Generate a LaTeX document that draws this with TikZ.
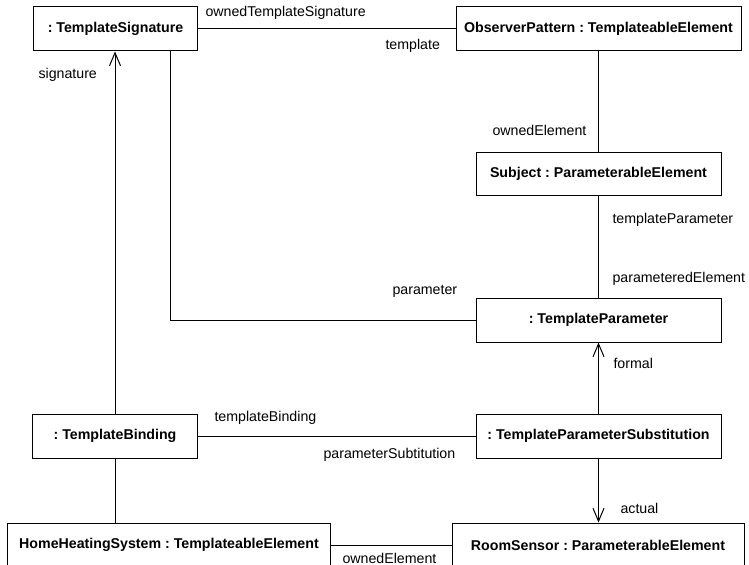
\documentclass[tikz,border=0pt]{standalone}
\usepackage{fontspec}
\setsansfont{Liberation Sans}
\frenchspacing
\usetikzlibrary{arrows.meta,positioning}
\tikzset{
  objnode/.style = {draw, rectangle, inner sep=0pt, minimum height=44bp, align=center,
  font=\sffamily\bfseries\fontsize{14.25}{17}\selectfont},
  rolelbl/.style = {inner sep=0pt, anchor=west, font=\sffamily\fontsize{14.25}{17}\selectfont}
}

\begin{document}
\begin{tikzpicture}[x=1bp, y=-1bp, line width=1bp, >={Straight Barb[length=13bp,width=11bp]}]
  \useasboundingbox (0,0) rectangle (749,565);
  % objects
  \node [objnode, minimum width=163bp] (sig) at (115.5,29) {: TemplateSignature};
  \node [objnode, minimum width=285bp] (observer) at (598.5,29) {ObserverPattern : TemplateableElement};
  \node [objnode, minimum width=245bp, minimum height=42bp] (subject) at (598.5,174) {Subject : ParameterableElement};
  \node [objnode, minimum width=245bp] (tparam) at (598.5,320) {: TemplateParameter};
  \node [objnode, minimum width=245bp] (tps) at (598.5,436) {: TemplateParameterSubstitution};
  \node [objnode, minimum width=164bp] (binding) at (115,436) {: TemplateBinding};
  \node [objnode, minimum width=322bp] (home) at (169,545) {HomeHeatingSystem : TemplateableElement};
  \node [objnode, minimum width=292bp] (room) at (598,545) {RoomSensor : ParameterableElement};

  % links
  \draw (sig) -- (observer);
  \draw (observer) -- (subject);
  \draw (subject) -- (tparam);
  \draw ([xshift=54.5bp]sig.south) |- (tparam.west);
  \draw [->] (binding.north) -- (binding.north |- sig.south);
  \draw (binding) -- (tps);
  \draw [->] (tps) -- (tparam);
  \draw [->] (tps.south) -- (tps.south |- room.north);
  \draw (binding.south) -- (binding.south |- home.north);
  \draw (home) -- (room);

  % role names
  \node [rolelbl] (l-ots) at (205,13) {ownedTemplateSignature};
  \node [rolelbl] (l-tmpl) at (385,46) {template};
  \node [rolelbl] (l-own1) at (492,130) {ownedElement};
  \node [rolelbl] (l-tpar) at (612,220) {templateParameter};
  \node [rolelbl] (l-pel) at (612,279) {parameteredElement};
  \node [rolelbl] (l-par) at (392,291) {parameter};
  \node [rolelbl] (l-sig) at (38,75) {signature};
  \node [rolelbl] (l-formal) at (613,363) {formal};
  \node [rolelbl] (l-tb) at (214,418) {templateBinding};
  \node [rolelbl] (l-ps) at (323,455) {parameterSubtitution};
  \node [rolelbl] (l-actual) at (620,508) {actual};
  \node [rolelbl] (l-own2) at (342,558) {ownedElement};
\end{tikzpicture}
\end{document}
